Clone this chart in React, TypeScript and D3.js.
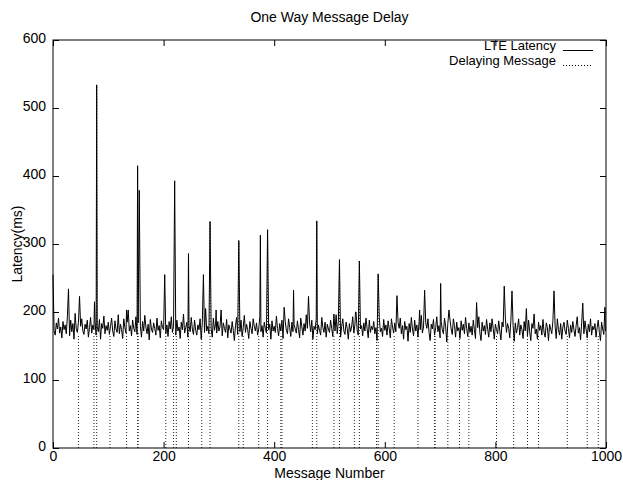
import { useEffect, useRef } from "react";
import * as d3 from "d3";

// baseline latency, one reading every 2 messages (0, 2, 4, ... 998)
const baseStep = 2;
const baseLatency = [
  255, 172, 166, 184, 175, 191, 169, 178, 162, 186,
  174, 181, 168, 193, 177, 165, 188, 171, 183, 160,
  198, 176, 170, 185, 164, 179, 190, 172, 167, 182,
  175, 188, 163, 177, 192, 169, 181, 174, 186, 166,
  178, 171, 189, 160, 183, 176, 194, 168, 180, 173,
  185, 167, 179, 191, 172, 164, 187, 175, 170, 196,
  168, 182, 174, 161, 190, 177, 169, 185, 203, 172,
  180, 165, 188, 176, 171, 193, 167, 184, 174, 179,
  163, 186, 172, 195, 178, 168, 182, 159, 189, 175,
  170, 184, 176, 166, 191, 173, 180, 162, 187, 177,
  174, 190, 168, 181, 164, 186, 175, 193, 170, 179,
  183, 166, 188, 172, 178, 161, 185, 174, 197, 169,
  177, 185, 163, 180, 171, 192, 175, 167, 188, 173,
  166, 181, 174, 190, 160, 184, 178, 170, 195, 172,
  179, 168, 187, 175, 163, 191, 173, 182, 169, 186,
  172, 178, 203, 165, 184, 176, 170, 189, 162, 181,
  175, 169, 186, 173, 158, 180, 192, 167, 183, 171,
  188, 164, 177, 195, 170, 182, 174, 161, 186, 176,
  168, 190, 179, 172, 184, 166, 175, 193, 171, 180,
  163, 185, 176, 169, 191, 174, 182, 160, 187, 172,
  179, 170, 194, 176, 165, 183, 172, 188, 161, 178,
  186, 173, 168, 190, 177, 164, 185, 171, 182, 175,
  169, 187, 174, 162, 191, 178, 166, 183, 172, 196,
  176, 165, 184, 171, 188, 160, 179, 174, 190, 168,
  181, 173, 166, 192, 177, 170, 185, 163, 182, 175,
  170, 188, 176, 164, 197, 172, 181, 168, 186, 174,
  163, 179, 190, 172, 167, 185, 176, 160, 183, 171,
  178, 193, 169, 182, 200, 173, 166, 187, 175, 180,
  165, 184, 172, 191, 176, 162, 188, 170, 179, 174,
  186, 168, 177, 158, 183, 192, 171, 176, 164, 189,
  173, 181, 166, 187, 175, 162, 190, 178, 169, 184,
  171, 164, 185, 176, 191, 168, 180, 160, 186, 174,
  179, 157, 183, 170, 192, 175, 165, 188, 172, 181,
  163, 186, 174, 195, 169, 178, 161, 184, 176, 190,
  170, 158, 182, 175, 189, 166, 177, 193, 171, 180,
  162, 186, 174, 168, 191, 179, 156, 183, 172, 188,
  175, 167, 190, 180, 163, 185, 172, 177, 161, 187,
  173, 182, 168, 192, 176, 164, 184, 170, 179, 166,
  188, 174, 161, 183, 177, 193, 169, 158, 185, 172,
  180, 167, 189, 175, 163, 184, 171, 190, 176, 160,
  182, 174, 168, 187, 172, 159, 185, 178, 166, 191,
  170, 183, 176, 162, 188, 173, 180, 157, 184, 169,
  177, 190, 166, 181, 174, 161, 186, 172, 179, 165,
  188, 171, 158, 183, 176, 192, 168, 175, 160, 185,
  173, 180, 166, 189, 170, 163, 184, 177, 158, 182,
  175, 168, 187, 171, 179, 161, 190, 174, 166, 183,
  160, 178, 185, 172, 167, 188, 176, 162, 181, 170,
  186, 174, 164, 180, 193, 169, 177, 159, 184, 173,
  168, 187, 175, 162, 182, 171, 190, 166, 179, 174,
  183, 163, 177, 188, 170, 158, 185, 175, 167, 192,
];

// single-message latency spikes
const spikeMsgs = [
  28, 48, 75, 79, 133, 153, 156, 202, 220, 245, 272, 276, 284, 295, 336,
  375, 388, 418, 435, 462, 477, 512, 518, 547, 554, 588, 622, 663, 672,
  701, 716, 766, 816, 830, 856, 870, 906, 958, 998, 999,
];
const spikeValues = [
  234, 223, 215, 534, 203, 415, 379, 255, 393, 286, 255, 205, 333, 203, 305,
  313, 321, 207, 232, 223, 334, 196, 277, 200, 275, 256, 224, 203, 232,
  242, 203, 214, 238, 231, 205, 197, 231, 213, 207, 172,
];

// delayed messages (impulses)
const delayMsgs = [
  46, 74, 79, 103, 133, 153, 154, 204, 218, 223, 245, 269, 284, 336, 344,
  372, 388, 412, 414, 469, 477, 508, 518, 545, 554, 585, 588, 617, 660,
  690, 691, 714, 735, 752, 802, 833, 858, 878, 930, 966, 986,
];
const delayValues = [
  168, 170, 534, 166, 170, 415, 170, 168, 170, 168, 286, 166, 333, 305, 168,
  166, 321, 168, 166, 168, 334, 166, 277, 168, 275, 166, 256, 166, 168,
  166, 166, 168, 166, 168, 166, 166, 168, 166, 166, 168, 166,
];

const xTicks = [0, 200, 400, 600, 800, 1000];
const yTicks = [0, 100, 200, 300, 400, 500, 600];

const font = "'Liberation Sans', Arial, Helvetica, sans-serif";

export default function App() {
  const ref = useRef<SVGSVGElement>(null);

  useEffect(() => {
    const width = 623;
    const height = 480;
    const margin = { top: 40, right: 17, bottom: 32, left: 53 };

    const svg = d3.select(ref.current);
    svg.selectAll("*").remove();

    const byMsg = new Map<number, number>();
    baseLatency.forEach((v, i) => byMsg.set(i * baseStep, v));
    spikeMsgs.forEach((m, i) => byMsg.set(m, spikeValues[i]));
    const latency = Array.from(byMsg.entries()).sort((a, b) => a[0] - b[0]);

    const x = d3
      .scaleLinear()
      .domain([0, 1000])
      .range([margin.left, width - margin.right]);
    const y = d3
      .scaleLinear()
      .domain([0, 600])
      .range([height - margin.bottom, margin.top]);

    // delayed message impulses
    svg
      .append("g")
      .selectAll("line")
      .data(delayMsgs)
      .join("line")
      .attr("x1", (d) => x(d))
      .attr("x2", (d) => x(d))
      .attr("y1", y(0))
      .attr("y2", (d, i) => y(delayValues[i]))
      .attr("stroke", "#222")
      .attr("stroke-width", 1)
      .attr("stroke-dasharray", "1,2");

    // latency line
    svg
      .append("path")
      .datum(latency)
      .attr("fill", "none")
      .attr("stroke", "#000")
      .attr("stroke-width", 1)
      .attr(
        "d",
        d3
          .line<[number, number]>()
          .x((d) => x(d[0]))
          .y((d) => y(d[1]))
      );

    // frame
    svg
      .append("rect")
      .attr("x", x(0))
      .attr("y", y(600))
      .attr("width", x(1000) - x(0))
      .attr("height", y(0) - y(600))
      .attr("fill", "none")
      .attr("stroke", "#000")
      .attr("stroke-width", 1);

    // inward ticks, mirrored
    const tickLen = 6;
    const bottom = svg
      .append("g")
      .attr("transform", `translate(0,${y(0)})`)
      .call(d3.axisBottom(x).tickValues(xTicks).tickSize(-tickLen).tickPadding(3).tickFormat(d3.format("d")));
    svg
      .append("g")
      .attr("transform", `translate(0,${y(600)})`)
      .call(d3.axisTop(x).tickValues(xTicks).tickSize(-tickLen).tickFormat(() => ""));
    const left = svg
      .append("g")
      .attr("transform", `translate(${x(0)},0)`)
      .call(d3.axisLeft(y).tickValues(yTicks).tickSize(-tickLen).tickPadding(7).tickFormat(d3.format("d")));
    svg
      .append("g")
      .attr("transform", `translate(${x(1000)},0)`)
      .call(d3.axisRight(y).tickValues(yTicks).tickSize(-tickLen).tickFormat(() => ""));

    svg.selectAll(".domain").remove();
    svg.selectAll(".tick line").attr("stroke", "#000");
    svg
      .selectAll(".tick text")
      .attr("fill", "#000")
      .attr("font-family", font)
      .attr("font-size", 14);
    bottom.selectAll(".tick text").attr("dy", "0.71em");
    left.selectAll(".tick text").attr("dy", "0.2em");

    // title and axis labels
    svg
      .append("text")
      .attr("x", (x(0) + x(1000)) / 2)
      .attr("y", 22)
      .attr("text-anchor", "middle")
      .attr("font-family", font)
      .attr("font-size", 14)
      .text("One Way Message Delay");

    svg
      .append("text")
      .attr("x", (x(0) + x(1000)) / 2)
      .attr("y", 478)
      .attr("text-anchor", "middle")
      .attr("font-family", font)
      .attr("font-size", 14)
      .text("Message Number");

    svg
      .append("text")
      .attr("transform", `translate(22,${(y(0) + y(600)) / 2}) rotate(-90)`)
      .attr("text-anchor", "middle")
      .attr("font-family", font)
      .attr("font-size", 14)
      .text("Latency(ms)");

    // legend
    const legend = [
      { label: "LTE Latency", dash: null as string | null },
      { label: "Delaying Message", dash: "1,2" },
    ];
    const lg = svg.append("g");
    legend.forEach((d, i) => {
      const by = 50 + i * 15;
      lg.append("text")
        .attr("x", 556)
        .attr("y", by)
        .attr("text-anchor", "end")
        .attr("font-family", font)
        .attr("font-size", 13)
        .text(d.label);
      lg.append("line")
        .attr("x1", 563)
        .attr("x2", 593)
        .attr("y1", by + 0.5)
        .attr("y2", by + 0.5)
        .attr("stroke", "#000")
        .attr("stroke-width", 1)
        .attr("stroke-dasharray", d.dash);
    });
  }, []);

  return (
    <svg
      ref={ref}
      width={623}
      height={480}
      style={{ position: "absolute", left: 0, top: 0, background: "#fff" }}
    />
  );
}
